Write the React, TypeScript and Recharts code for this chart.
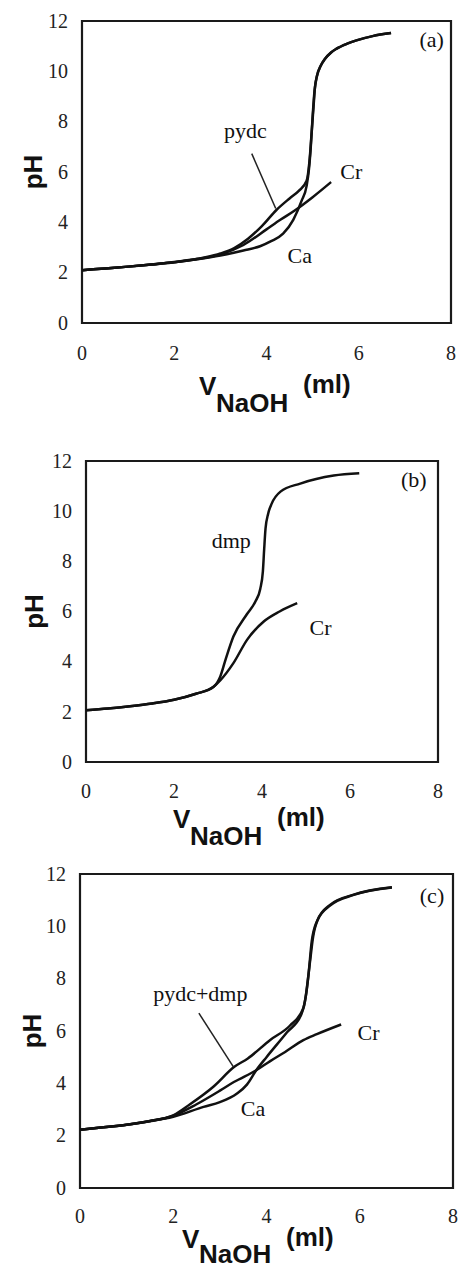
import React from "react";
import { LineChart, Line, XAxis, YAxis, ReferenceArea, ReferenceDot, ReferenceLine, Label } from "recharts";

// [V NaOH (ml), pH]
const aPydc: [number, number][] = [[0, 2.1], [0.5, 2.17], [1, 2.24], [1.5, 2.32], [2, 2.42], [2.5, 2.55], [3, 2.76], [3.3, 2.98], [3.6, 3.35], [3.9, 3.85], [4.22, 4.5], [4.5, 4.95], [4.7, 5.25], [4.87, 5.65], [4.93, 6.4], [4.98, 7.6], [5.02, 8.6], [5.05, 9.35], [5.1, 9.85], [5.17, 10.2], [5.27, 10.5], [5.4, 10.75], [5.52, 10.9], [5.75, 11.1], [5.95, 11.23], [6.3, 11.4], [6.7, 11.52]];
const aCa: [number, number][] = [[0, 2.1], [0.5, 2.17], [1, 2.24], [1.5, 2.32], [2, 2.41], [2.5, 2.53], [3, 2.68], [3.5, 2.88], [3.86, 3.05], [4.1, 3.25], [4.36, 3.55], [4.58, 4.1], [4.76, 4.85], [4.87, 5.45], [4.92, 6.1], [4.96, 7.0], [5.0, 8.2], [5.04, 9.2], [5.09, 9.8], [5.17, 10.2], [5.27, 10.5], [5.4, 10.75], [5.52, 10.9], [5.75, 11.1], [5.95, 11.23], [6.3, 11.4], [6.7, 11.52]];
const aCr: [number, number][] = [[0, 2.1], [0.5, 2.17], [1, 2.24], [1.5, 2.32], [2, 2.41], [2.5, 2.54], [3, 2.72], [3.5, 3.1], [4, 3.72], [4.3, 4.1], [4.62, 4.48], [5, 5.0], [5.4, 5.6]];

const bDmp: [number, number][] = [[0, 2.06], [0.5, 2.13], [1, 2.22], [1.5, 2.33], [2, 2.48], [2.5, 2.72], [2.9, 3.0], [3.05, 3.4], [3.17, 4.07], [3.35, 5.0], [3.66, 5.9], [3.85, 6.4], [3.96, 6.9], [4.02, 7.6], [4.05, 8.5], [4.08, 9.3], [4.14, 9.9], [4.22, 10.3], [4.42, 10.78], [4.87, 11.1], [5.63, 11.42], [6.21, 11.51]];
const bCr: [number, number][] = [[0, 2.06], [0.5, 2.13], [1, 2.22], [1.5, 2.33], [2, 2.48], [2.5, 2.72], [2.9, 3.0], [3.05, 3.25], [3.35, 3.94], [3.66, 4.87], [4.04, 5.6], [4.4, 6.0], [4.8, 6.33]];

const cPd: [number, number][] = [[0, 2.23], [0.5, 2.32], [1, 2.42], [1.5, 2.56], [2, 2.78], [2.36, 3.2], [2.86, 3.87], [3.31, 4.63], [3.6, 4.95], [4.08, 5.66], [4.5, 6.2], [4.79, 6.87], [4.9, 8.15], [4.97, 9.42], [5.08, 10.19], [5.37, 10.83], [5.87, 11.21], [6.69, 11.49]];
const cCa: [number, number][] = [[0, 2.23], [0.5, 2.32], [1, 2.42], [1.5, 2.55], [2, 2.72], [2.65, 3.1], [3.0, 3.28], [3.36, 3.6], [3.58, 3.95], [3.78, 4.5], [4.0, 5.0], [4.44, 5.95], [4.75, 6.65], [4.85, 7.4], [4.93, 8.6], [5.0, 9.6], [5.1, 10.25], [5.37, 10.8], [5.87, 11.2], [6.69, 11.48]];
const cCr: [number, number][] = [[0, 2.23], [0.5, 2.32], [1, 2.42], [1.5, 2.56], [2, 2.76], [2.5, 3.2], [3.0, 3.72], [3.3, 4.05], [3.78, 4.5], [4.08, 4.85], [4.4, 5.2], [4.79, 5.65], [5.08, 5.88], [5.6, 6.25]];

const xTicks = [0, 2, 4, 6, 8];
const yTicks = [0, 2, 4, 6, 8, 10, 12];

// curve labels, anchored in data units
const aLabels = [
  { text: "pydc", x: 3.54, y: 7.65 },
  { text: "Cr", x: 5.84, y: 6.02 },
  { text: "Ca", x: 4.72, y: 2.68 },
  { text: "(a)", x: 7.58, y: 11.26 },
];
const bLabels = [
  { text: "dmp", x: 3.3, y: 8.85 },
  { text: "Cr", x: 5.33, y: 5.38 },
  { text: "(b)", x: 7.45, y: 11.27 },
];
const cLabels = [
  { text: "pydc+dmp", x: 2.58, y: 7.45 },
  { text: "Cr", x: 6.19, y: 5.96 },
  { text: "Ca", x: 3.71, y: 3.04 },
  { text: "(c)", x: 7.55, y: 11.19 },
];
const aPointer = [{ x: 3.68, y: 6.73 }, { x: 4.2, y: 4.55 }];
const cPointer = [{ x: 2.55, y: 6.68 }, { x: 3.29, y: 4.63 }];

const serif = "'Liberation Serif', 'Times New Roman', serif";
const sans = "'Liberation Sans', Arial, sans-serif";
const ink = "#111";

const toPts = (arr: [number, number][]) => arr.map(([x, y]) => ({ x, y }));

function XTick({ x, y, payload }: any) {
  return (
    <text x={x} y={y} dy="0.71em" textAnchor="middle" fontFamily={serif} fontSize={20} fill="#222">
      {payload.value}
    </text>
  );
}

function YTick({ x, y, payload }: any) {
  return (
    <text x={x} y={y} dy="0.34em" textAnchor="end" fontFamily={serif} fontSize={20} fill="#222">
      {payload.value}
    </text>
  );
}

function XTitle({ viewBox, dx, dy, sub }: any) {
  const x0 = viewBox.x + dx;
  const y0 = viewBox.y + dy;
  return (
    <g fontFamily={sans} fontWeight="bold" fontSize={26} fill={ink}>
      <text x={x0} y={y0}>V</text>
      <text x={x0 + 17} y={y0 + sub}>NaOH</text>
      <text x={x0 + 104} y={y0 - 2}>(ml)</text>
    </g>
  );
}

function YTitle({ viewBox, cx }: any) {
  const cy = viewBox.y + viewBox.height / 2;
  return (
    <text x={cx} y={cy} dy="0.35em" textAnchor="middle" transform={`rotate(-90, ${cx}, ${cy})`}
      fontFamily={sans} fontWeight="bold" fontSize={26} fill={ink}>pH</text>
  );
}

type Panel = {
  top: number;
  height: number;
  margin: { top: number; right: number; left: number; bottom: number };
  yWidth: number;
  xHeight: number;
  tickGapX: number;
  series: [number, number][][];
  labels: { text: string; x: number; y: number }[];
  pointer?: { x: number; y: number }[];
  xt: { dx: number; dy: number; sub: number };
  yt: number;
};

const panels: Panel[] = [
  {
    top: 0, height: 420, margin: { top: 21, right: 7, left: 0, bottom: 0 }, yWidth: 82, xHeight: 97,
    tickGapX: 23, series: [aCr, aCa, aPydc], labels: aLabels, pointer: aPointer,
    xt: { dx: 117, dy: 72, sub: 17 }, yt: 33,
  },
  {
    top: 420, height: 430, margin: { top: 41, right: 20, left: 0, bottom: 0 }, yWidth: 86, xHeight: 88,
    tickGapX: 22, series: [bCr, bDmp], labels: bLabels,
    xt: { dx: 87, dy: 66, sub: 17 }, yt: 34,
  },
  {
    top: 850, height: 425, margin: { top: 24, right: 5, left: 0, bottom: 0 }, yWidth: 80, xHeight: 87,
    tickGapX: 21, series: [cCr, cCa, cPd], labels: cLabels, pointer: cPointer,
    xt: { dx: 102, dy: 60, sub: 15 }, yt: 32,
  },
];

function TitrationPanel({ p }: { p: Panel }) {
  return (
    <div style={{ position: "absolute", left: 0, top: p.top, width: 458, height: p.height }}>
      <LineChart width={458} height={p.height} margin={p.margin}>
        <XAxis type="number" dataKey="x" domain={[0, 8]} ticks={xTicks} height={p.xHeight}
          axisLine={false} tickLine={false} tickSize={0} tickMargin={p.tickGapX}
          tick={<XTick />} allowDataOverflow>
          <Label content={(props: any) => <XTitle {...props} dx={p.xt.dx} dy={p.xt.dy} sub={p.xt.sub} />} />
        </XAxis>
        <YAxis type="number" dataKey="y" domain={[0, 12]} ticks={yTicks} width={p.yWidth}
          axisLine={false} tickLine={false} tickSize={0} tickMargin={14}
          tick={<YTick />} allowDataOverflow>
          <Label content={(props: any) => <YTitle {...props} cx={p.yt} />} />
        </YAxis>
        <ReferenceArea x1={0} x2={8} y1={0} y2={12} fill="none" fillOpacity={0} stroke="#1a1a1a" strokeWidth={2.2} ifOverflow="visible" />
        {p.series.map((s, i) => (
          <Line key={i} data={toPts(s)} dataKey="y" type="monotone" stroke={ink} strokeWidth={2.5}
            dot={false} activeDot={false} isAnimationActive={false} />
        ))}
        {p.pointer && <ReferenceLine segment={p.pointer} stroke="#222" strokeWidth={1.5} ifOverflow="visible" />}
        {p.labels.map((l) => (
          <ReferenceDot key={l.text} x={l.x} y={l.y} r={0} fill="none" stroke="none" ifOverflow="visible"
            label={{ value: l.text, position: "center", fill: ink, fontSize: 22, fontFamily: serif }} />
        ))}
      </LineChart>
    </div>
  );
}

export default function App() {
  return (
    <div style={{ position: "absolute", left: 0, top: 0, width: 458, height: 1275, background: "#fff", overflow: "hidden" }}>
      {panels.map((p, i) => (
        <TitrationPanel key={i} p={p} />
      ))}
    </div>
  );
}
